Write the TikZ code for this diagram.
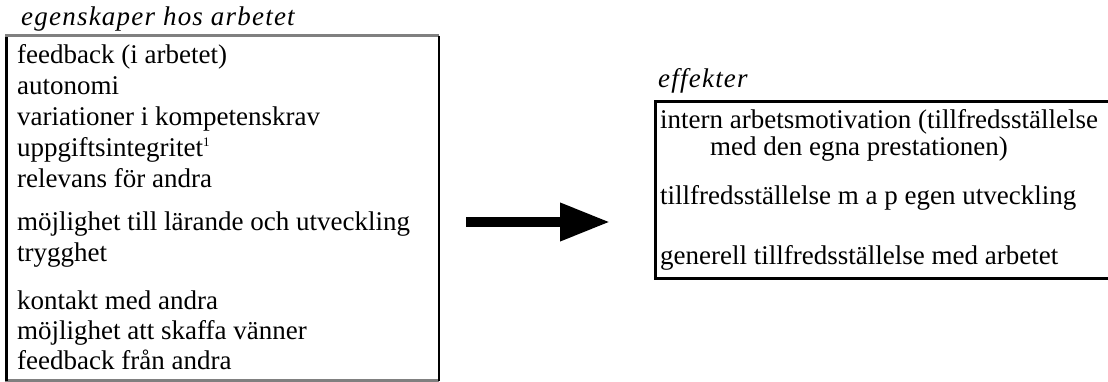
\documentclass[tikz,border=0pt]{standalone}
\usepackage{fontspec}
\setmainfont{Liberation Serif}
\newfontfamily\headfont[LetterSpace=4.5]{Liberation Serif}
\usetikzlibrary{arrows.meta}
\definecolor{edgegray}{RGB}{128,128,128}
\newcommand{\smallsup}[1]{\raisebox{10pt}{\fontsize{13}{13}\selectfont #1}}
\begin{document}
\begin{tikzpicture}[x=1pt,y=-1pt,
  txt/.style={anchor=base west, inner sep=0pt, font=\fontsize{27}{30}\selectfont},
  ttl/.style={anchor=base west, inner sep=0pt, font=\headfont\itshape\fontsize{27}{30}\selectfont},
  grayedge/.style={draw=edgegray, line width=3pt},
  blackedge/.style={draw=black, line width=3pt},
  thinedge/.style={draw=black, line width=1.5pt},
  bigarrow/.style={line width=10pt, -{Triangle[length=50pt,width=36pt]}}]
\useasboundingbox (0,0) rectangle (1108,382);
% left box corners
\coordinate (Lnw) at (5,36);
\coordinate (Lne) at (439,36);
\coordinate (Lsw) at (5,380.5);
\coordinate (Lse) at (439,380.5);
\draw[grayedge] (Lnw) -- (Lne);
\draw[grayedge] (Lsw) -- (Lse);
\draw[blackedge] ([xshift=1.5pt,yshift=-1.5pt]Lnw) -- ([xshift=1.5pt]Lsw);
\draw[thinedge] (Lne) -- (Lse);
% left title and lines
\node[ttl] (tL) at (21,26) {egenskaper hos arbetet};
\node[txt] (l1) at (17,64) {feedback (i arbetet)};
\node[txt] (l2) at (17,95) {autonomi};
\node[txt] (l3) at (17,126) {variationer i kompetenskrav};
\node[txt] (l4) at (17,157) {uppgiftsintegritet\smallsup{1}};
\node[txt] (l5) at (17,188) {relevans för andra};
\node[txt] (l6) at (17,230) {möjlighet till lärande och utveckling};
\node[txt] (l7) at (17,261) {trygghet};
\node[txt] (l8) at (17,309) {kontakt med andra};
\node[txt] (l9) at (17,339) {möjlighet att skaffa vänner};
\node[txt] (l10) at (17,369) {feedback från andra};
% right box
\coordinate (Rnw) at (655,101.5);
\coordinate (Rne) at (1108,101.5);
\coordinate (Rsw) at (655,278);
\coordinate (Rse) at (1108,278);
\draw[blackedge] (Rne) -- (Rnw) -- (Rsw) -- (Rse);
\node[ttl] (tR) at (658,88) {effekter};
\node[txt] (r1) at (660,129) {intern arbetsmotivation (tillfredsställelse};
\node[txt] (r2) at (710,156) {med den egna prestationen)};
\node[txt] (r3) at (660,205) {tillfredsställelse m a p egen utveckling};
\node[txt] (r4) at (660,264) {generell tillfredsställelse med arbetet};
% arrow
\coordinate (a0) at (466,222);
\coordinate (a1) at (610,222);
\draw[bigarrow] (a0) -- (a1);
\end{tikzpicture}
\end{document}
